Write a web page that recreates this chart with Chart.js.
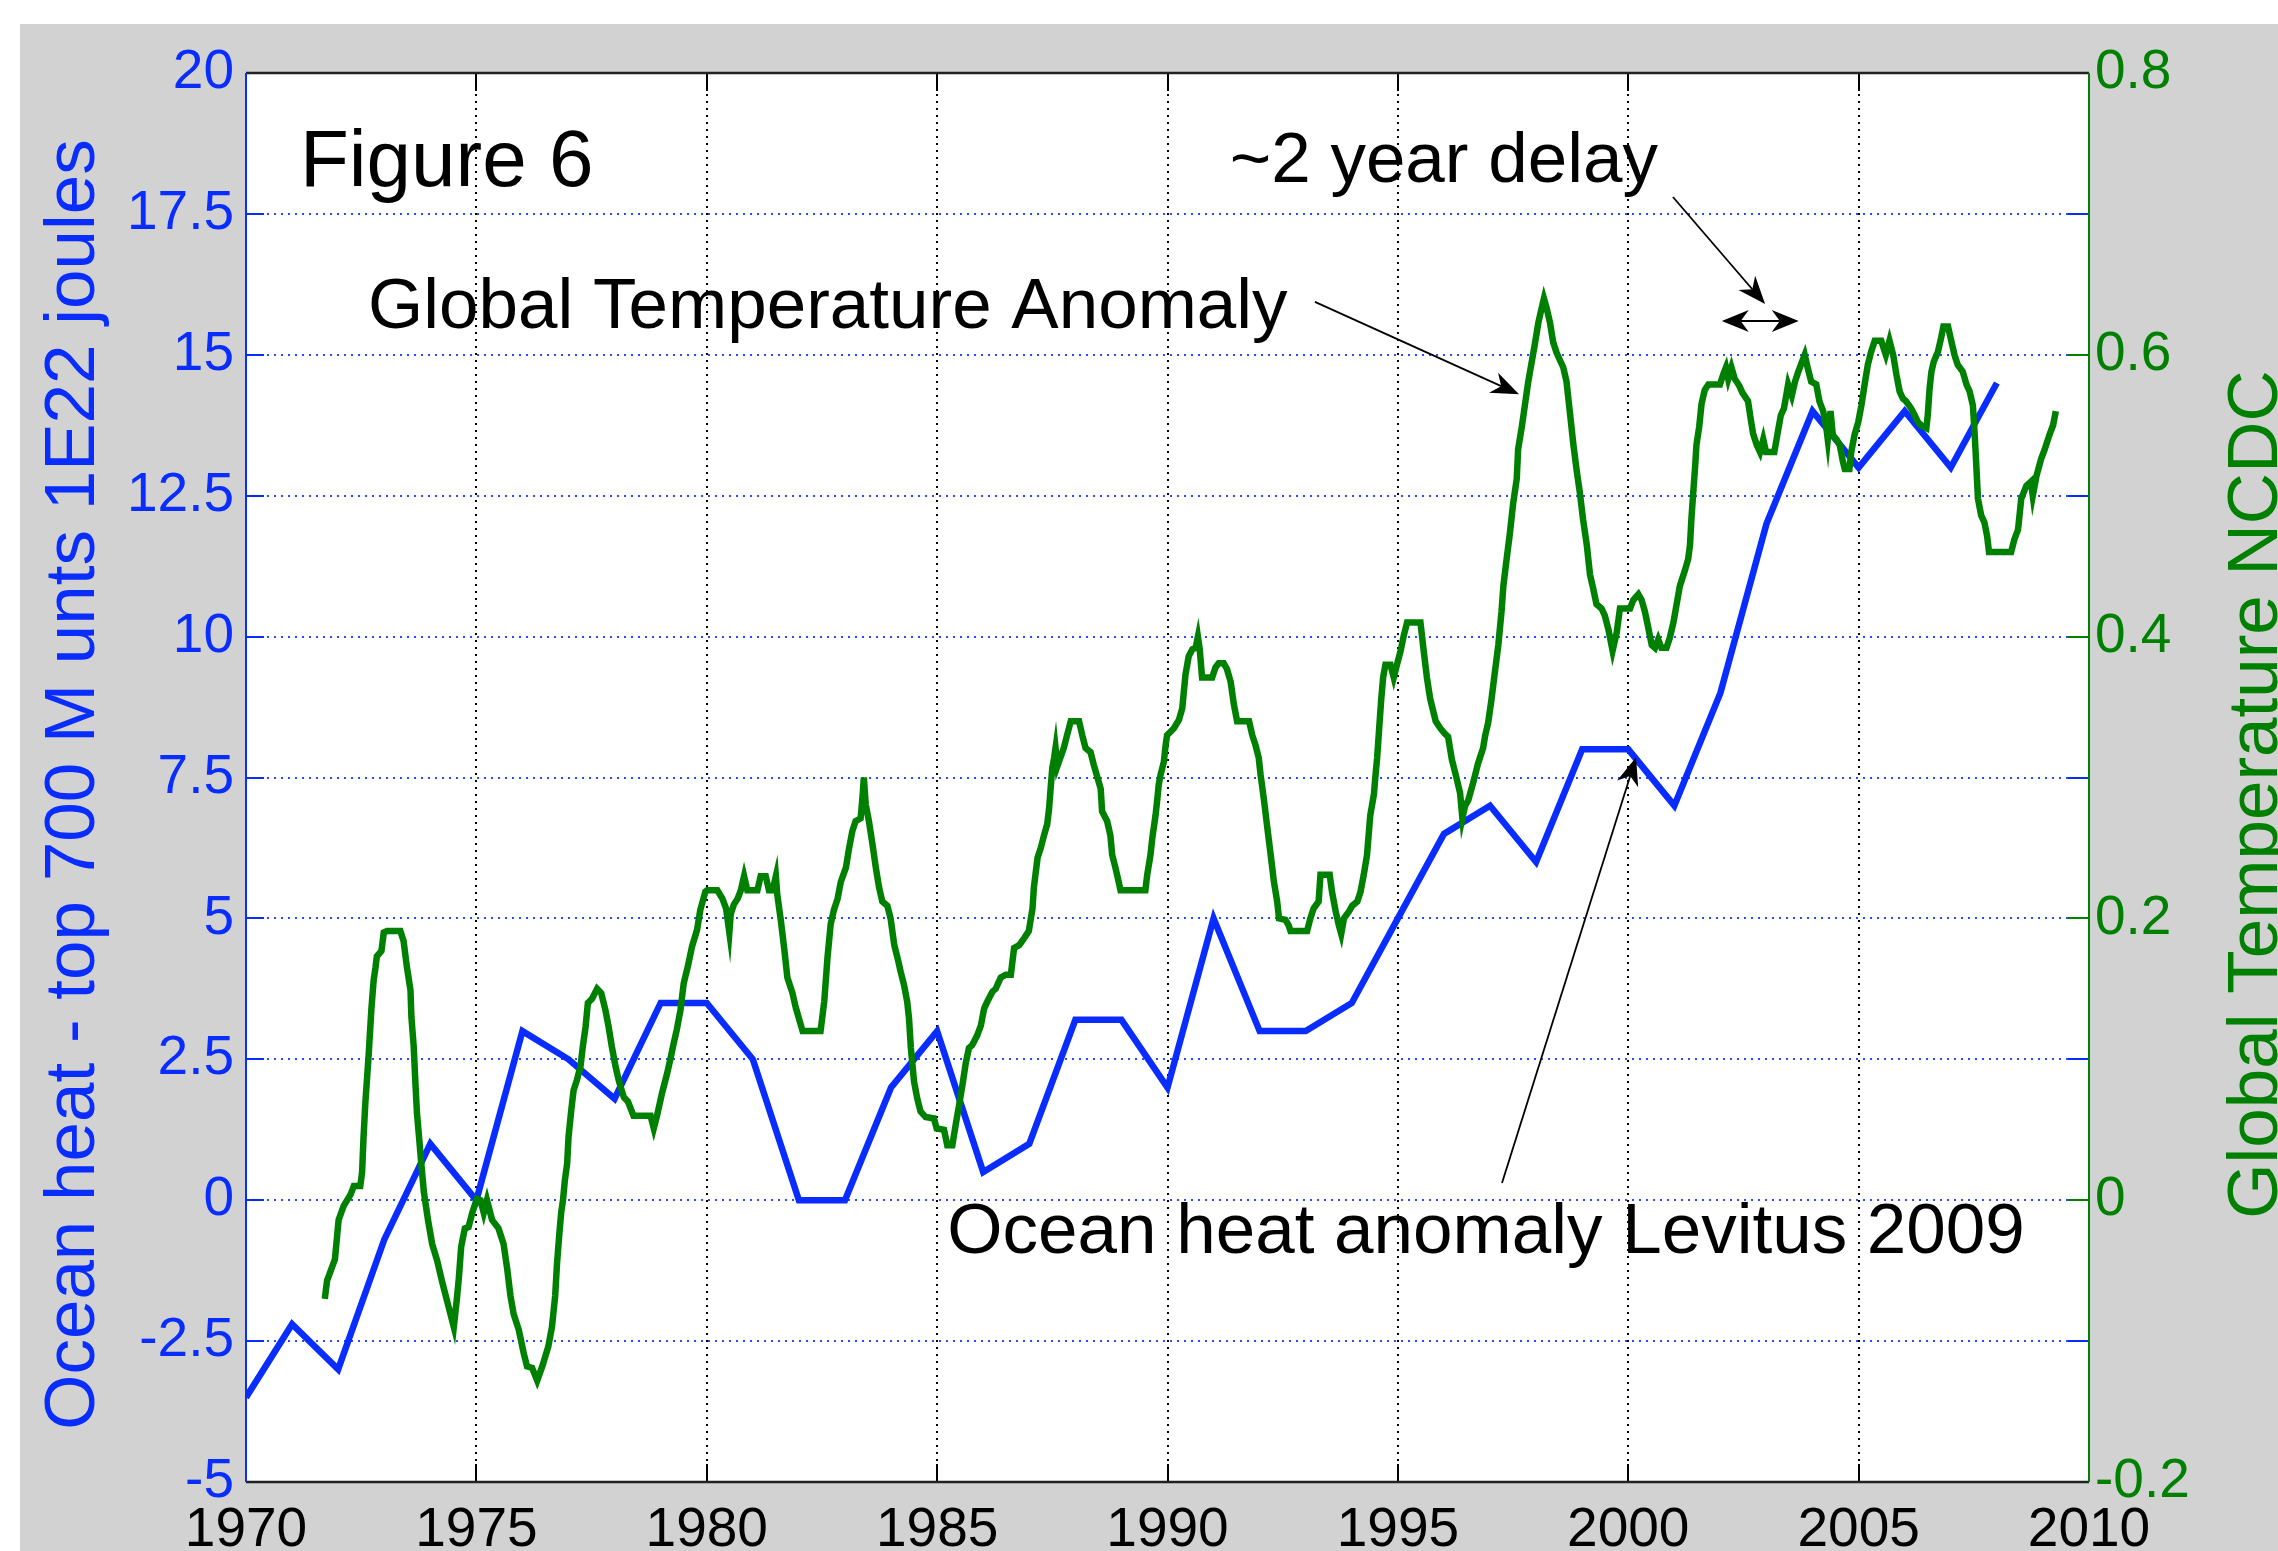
<!DOCTYPE html>
<html>
<head>
<meta charset="utf-8">
<title>Figure 6 – Ocean heat and global temperature</title>
<script src="https://cdn.jsdelivr.net/npm/chart.js@4.4.0/dist/chart.umd.min.js"></script>
<style>
  html, body { margin: 0; padding: 0; background: #ffffff; }
  canvas { display: block; }
</style>
</head>
<body>
<canvas id="chart" width="2278" height="1551"></canvas>
<script>
// Ocean heat content anomaly, top 700 m (Levitus 2009), units of 1E22 joules
const oceanYears = [
  1970, 1971, 1972, 1973, 1974, 1975, 1976, 1977, 1978, 1979,
  1980, 1981, 1982, 1983, 1984, 1985, 1986, 1987, 1988, 1989,
  1990, 1991, 1992, 1993, 1994, 1995, 1996, 1997, 1998, 1999,
  2000, 2001, 2002, 2003, 2004, 2005, 2006, 2007, 2008
];
const oceanHeat = [
  -3.5, -2.2, -3.0, -0.7, 1.0, 0.0, 3.0, 2.5, 1.8, 3.5,
  3.5, 2.5, 0.0, 0.0, 2.0, 3.0, 0.5, 1.0, 3.2, 3.2,
  2.0, 5.0, 3.0, 3.0, 3.5, 5.0, 6.5, 7.0, 6.0, 8.0,
  8.0, 7.0, 9.0, 12.0, 14.0, 13.0, 14.0, 13.0, 14.5
];

// NCDC global temperature anomaly (deg C), running mean
const tempYears = [
  1971.71,1971.76,1971.93,1972.01,1972.12,1972.27,1972.34,1972.48,1972.52,1972.55,
  1972.59,1972.63,1972.66,1972.72,1972.77,1972.81,1972.84,1972.94,1972.99,1973.06,
  1973.35,1973.42,1973.49,1973.57,1973.59,1973.64,1973.68,1973.71,1973.75,1973.81,
  1973.86,1973.95,1974.04,1974.15,1974.25,1974.36,1974.51,1974.58,1974.62,1974.67,
  1974.75,1974.83,1974.91,1975.01,1975.09,1975.16,1975.23,1975.34,1975.48,1975.59,
  1975.67,1975.74,1975.81,1975.92,1976.03,1976.10,1976.21,1976.32,1976.43,1976.56,
  1976.64,1976.71,1976.75,1976.80,1976.84,1976.88,1976.92,1976.97,1977.00,1977.06,
  1977.11,1977.18,1977.26,1977.31,1977.37,1977.42,1977.51,1977.62,1977.71,1977.80,
  1977.87,1977.94,1978.02,1978.09,1978.20,1978.29,1978.41,1978.78,1978.85,1978.92,
  1979.03,1979.14,1979.21,1979.28,1979.35,1979.43,1979.50,1979.59,1979.68,1979.79,
  1979.86,1979.97,
  1980.01,1980.23,1980.34,1980.42,1980.49,1980.52,1980.59,1980.67,1980.74,1980.81,
  1980.88,1981.10,1981.17,1981.28,1981.35,1981.43,1981.50,1981.53,1981.61,1981.68,
  1981.75,1981.86,1981.93,1982.00,1982.08,1982.47,1982.55,1982.62,1982.69,1982.76,
  1982.84,1982.91,1983.02,1983.09,1983.16,1983.23,1983.34,1983.38,1983.41,1983.45,
  1983.52,1983.60,1983.67,1983.74,1983.81,1983.92,1983.99,1984.07,1984.14,1984.21,
  1984.28,1984.35,1984.39,1984.43,1984.50,1984.57,1984.64,1984.75,1984.93,1984.99,
  1985.15,1985.22,1985.33,1985.40,1985.48,1985.55,1985.62,1985.69,1985.76,1985.87,
  1985.95,1986.02,1986.09,1986.20,1986.27,1986.38,1986.49,1986.60,1986.67,1986.78,
  1986.89,1986.99,1987.07,1987.10,1987.18,1987.25,1987.32,1987.39,1987.43,1987.47,
  1987.50,1987.54,1987.57,1987.61,
  1987.75,1987.82,1987.90,1988.08,1988.15,1988.22,1988.33,1988.40,1988.48,1988.55,
  1988.58,1988.69,1988.76,1988.80,1988.87,1988.94,1988.98,1989.52,1989.56,1989.63,
  1989.67,1989.74,1989.78,1989.81,1989.85,1989.92,1989.96,1989.99,1990.14,1990.25,
  1990.32,1990.39,1990.46,1990.54,1990.61,1990.66,1990.70,1990.75,1990.97,1991.04,
  1991.11,1991.22,1991.29,1991.37,1991.44,1991.51,1991.77,1991.84,1991.91,1991.98,
  1992.02,1992.09,1992.16,1992.24,1992.31,1992.38,1992.42,1992.56,1992.63,1992.67,
  1993.03,1993.10,1993.17,1993.28,1993.32,1993.52,1993.57,1993.65,1993.72,1993.77,
  1993.83,1993.94,1994.01,1994.12,1994.19,1994.26,1994.33,1994.40,1994.48,1994.51,
  1994.55,1994.59,1994.64,1994.68,1994.73,1994.84,1994.91,1994.98,1995.06,1995.13,
  1995.20,1995.49,1995.56,1995.63,1995.70,1995.82,1995.92,
  1996.02,1996.09,1996.17,1996.27,1996.35,1996.40,1996.46,1996.53,1996.64,1996.74,
  1996.85,1996.89,1996.96,1997.03,1997.11,1997.18,1997.25,1997.29,1997.36,1997.43,
  1997.50,1997.58,1997.61,1997.69,1997.76,1997.83,1997.90,1997.97,1998.05,1998.12,
  1998.17,1998.23,1998.30,1998.37,1998.44,1998.52,1998.59,1998.66,1998.73,1998.81,
  1998.88,1998.95,1999.02,1999.10,1999.17,1999.24,1999.31,1999.42,1999.49,1999.57,
  1999.66,1999.75,1999.82,2000.04,2000.11,2000.22,2000.29,2000.36,2000.43,2000.51,
  2000.58,2000.65,2000.72,2000.83,2000.90,2000.98,2001.05,2001.12,2001.23,2001.30,
  2001.34,2001.37,2001.41,2001.45,2001.48,2001.54,2001.59,2001.66,2001.74,2001.99,
  2002.06,2002.12,2002.17,2002.24,2002.31,2002.41,2002.48,2002.60,2002.66,2002.71,
  2002.79,2002.86,2002.93,2002.99,2003.17,2003.24,2003.31,2003.38,
  2003.47,2003.55,2003.62,2003.68,2003.76,2003.83,2003.90,2003.97,2004.08,2004.15,
  2004.23,2004.30,2004.33,2004.39,2004.44,2004.52,2004.59,2004.66,2004.70,2004.80,
  2004.84,2004.91,2004.99,2005.06,2005.13,2005.20,2005.27,2005.35,2005.49,2005.59,
  2005.67,2005.75,2005.82,2005.89,2005.96,2006.03,2006.14,2006.22,2006.29,2006.36,
  2006.47,2006.50,2006.54,2006.58,2006.63,2006.72,2006.79,2006.84,2006.94,2007.01,
  2007.08,2007.15,2007.26,2007.34,2007.41,2007.48,2007.52,2007.55,2007.59,2007.66,
  2007.73,2007.79,2007.83,2008.31,2008.38,2008.46,2008.53,2008.64,2008.74,2008.78,
  2008.86,2008.96,2009.04,2009.14,2009.22,2009.28
];
const tempAnomaly = [
  -0.070,-0.057,-0.042,-0.014,-0.004,0.004,0.010,0.010,0.020,0.044,
  0.069,0.088,0.102,0.135,0.156,0.165,0.173,0.177,0.190,0.191,
  0.191,0.184,0.166,0.149,0.130,0.109,0.081,0.062,0.047,0.024,
  0.006,-0.014,-0.031,-0.043,-0.057,-0.071,-0.090,-0.069,-0.055,-0.033,
  -0.020,-0.019,-0.009,0.001,0.000,-0.009,0.000,-0.014,-0.020,-0.031,
  -0.049,-0.068,-0.081,-0.092,-0.109,-0.118,-0.119,-0.128,-0.118,-0.104,
  -0.090,-0.068,-0.045,-0.024,-0.009,0.000,0.014,0.026,0.045,0.064,
  0.078,0.085,0.095,0.109,0.123,0.140,0.143,0.150,0.147,0.135,
  0.123,0.109,0.095,0.085,0.073,0.070,0.060,0.060,0.051,0.060,
  0.076,0.090,0.100,0.111,0.121,0.135,0.154,0.166,0.180,0.192,
  0.206,0.219,
  0.220,0.220,0.214,0.207,0.190,0.203,0.210,0.214,0.220,0.230,
  0.220,0.220,0.230,0.230,0.220,0.220,0.230,0.217,0.198,0.179,
  0.158,0.147,0.137,0.129,0.120,0.120,0.141,0.172,0.196,0.206,
  0.214,0.226,0.236,0.250,0.262,0.269,0.271,0.286,0.300,0.281,
  0.269,0.252,0.236,0.222,0.212,0.209,0.200,0.181,0.172,0.162,
  0.153,0.141,0.129,0.108,0.084,0.072,0.063,0.059,0.058,0.051,
  0.050,0.039,0.039,0.053,0.068,0.082,0.097,0.108,0.110,0.117,
  0.124,0.136,0.141,0.148,0.150,0.158,0.160,0.160,0.179,0.181,
  0.186,0.191,0.207,0.222,0.243,0.250,0.259,0.267,0.278,0.295,
  0.307,0.314,0.321,0.308,
  0.321,0.330,0.340,0.340,0.330,0.321,0.318,0.309,0.300,0.292,
  0.276,0.269,0.259,0.245,0.236,0.226,0.220,0.220,0.231,0.245,
  0.257,0.273,0.285,0.295,0.302,0.311,0.323,0.330,0.335,0.341,
  0.349,0.373,0.386,0.391,0.392,0.400,0.391,0.371,0.371,0.378,
  0.381,0.381,0.377,0.368,0.352,0.340,0.340,0.330,0.323,0.314,
  0.302,0.285,0.266,0.245,0.226,0.212,0.200,0.199,0.195,0.191,
  0.191,0.200,0.207,0.212,0.231,0.231,0.219,0.205,0.195,0.189,
  0.200,0.205,0.209,0.212,0.219,0.231,0.245,0.273,0.288,0.300,
  0.314,0.333,0.356,0.371,0.380,0.380,0.371,0.380,0.390,0.401,
  0.410,0.410,0.390,0.371,0.356,0.340,0.335,
  0.331,0.329,0.313,0.300,0.289,0.271,0.280,0.284,0.297,0.310,
  0.321,0.329,0.339,0.355,0.376,0.394,0.418,0.436,0.455,0.473,
  0.494,0.512,0.533,0.549,0.565,0.581,0.594,0.607,0.623,0.633,
  0.640,0.633,0.623,0.609,0.602,0.596,0.591,0.581,0.560,0.536,
  0.518,0.502,0.483,0.465,0.444,0.434,0.423,0.420,0.415,0.405,
  0.390,0.403,0.420,0.420,0.426,0.430,0.426,0.418,0.407,0.394,
  0.392,0.398,0.392,0.392,0.399,0.410,0.423,0.436,0.447,0.455,
  0.465,0.483,0.502,0.520,0.536,0.549,0.565,0.575,0.579,0.579,
  0.586,0.591,0.583,0.591,0.583,0.578,0.573,0.567,0.554,0.544,
  0.536,0.531,0.540,0.531,0.531,0.544,0.557,0.562,
  0.579,0.571,0.581,0.587,0.594,0.600,0.590,0.581,0.579,0.567,
  0.560,0.548,0.540,0.560,0.543,0.540,0.536,0.524,0.519,0.519,
  0.531,0.543,0.552,0.564,0.579,0.593,0.602,0.610,0.610,0.600,
  0.610,0.600,0.586,0.574,0.569,0.567,0.562,0.557,0.552,0.550,
  0.548,0.557,0.576,0.588,0.595,0.602,0.612,0.620,0.620,0.610,
  0.600,0.593,0.588,0.579,0.574,0.564,0.543,0.524,0.498,0.486,
  0.481,0.471,0.460,0.460,0.469,0.476,0.498,0.507,0.510,0.500,
  0.514,0.526,0.533,0.543,0.550,0.560
];

// Axis ticks
const yearTicks = [1970, 1975, 1980, 1985, 1990, 1995, 2000, 2005, 2010];
const heatTicks = [-5, -2.5, 0, 2.5, 5, 7.5, 10, 12.5, 15, 17.5, 20];
const tempTicks = [-0.2, 0, 0.2, 0.4, 0.6, 0.8];

// Text labels, anchored in (year, ocean heat) units
const noteTexts = ['Figure 6', 'Global Temperature Anomaly', '~2 year delay', 'Ocean heat anomaly Levitus 2009'];
const noteYears = [1971.17, 1972.65, 1991.35, 1985.22];
const noteHeats = [18.0, 15.48, 18.07, -0.94];
const noteSizes = [80, 71, 71, 71];

// Pointer arrows: [startYear, startHeat, tipYear, tipHeat]
const pointerArrows = [
  [1993.2, 15.94, 1997.63, 14.30],
  [2000.97, 17.80, 2002.97, 15.90],
  [1997.26, 0.305, 2000.17, 7.86]
];
// Double-headed span arrow: [fromYear, toYear, heat]
const delaySpan = [2002.03, 2003.70, 15.60];

const FONT = '"Liberation Sans", Arial, Helvetica, sans-serif';
const BLUE = '#0a2dff';
const GRID_BLUE = '#2a4bff';
const GREEN = '#008000';
const FIG_GRAY = '#d2d2d2';
const TICK_LEN = 18;

const figureFrame = {
  id: 'figureFrame',
  beforeDraw(chart) {
    const { ctx, width, height, chartArea: a } = chart;
    ctx.save();
    ctx.fillStyle = '#ffffff';
    ctx.fillRect(0, 0, width, height);
    ctx.fillStyle = FIG_GRAY;
    ctx.fillRect(20, 24, width - 20, height - 24);
    ctx.fillStyle = '#ffffff';
    ctx.fillRect(a.left, a.top, a.right - a.left, a.bottom - a.top);
    ctx.restore();
  }
};

// Dotted grid under the data
const dottedGrid = {
  id: 'dottedGrid',
  beforeDatasetsDraw(chart) {
    const { ctx, chartArea: a, scales } = chart;
    ctx.save();
    ctx.lineWidth = 2;
    ctx.setLineDash([2, 5]);
    ctx.strokeStyle = '#000000';
    yearTicks.slice(1, -1).forEach(yr => {
      const px = Math.round(scales.x.getPixelForValue(yr));
      ctx.beginPath();
      ctx.moveTo(px, a.top);
      ctx.lineTo(px, a.bottom);
      ctx.stroke();
    });
    ctx.strokeStyle = GRID_BLUE;
    heatTicks.slice(1, -1).forEach(v => {
      const py = Math.round(scales.y.getPixelForValue(v));
      ctx.beginPath();
      ctx.moveTo(a.left, py);
      ctx.lineTo(a.right, py);
      ctx.stroke();
    });
    ctx.restore();
  }
};

function arrowHead(ctx, fx, fy, tx, ty, len, half) {
  const d = Math.hypot(tx - fx, ty - fy);
  const ux = (tx - fx) / d, uy = (ty - fy) / d;
  const nx = -uy, ny = ux;
  const bx = tx - ux * len, by = ty - uy * len;
  const kx = tx - ux * len * 0.7, ky = ty - uy * len * 0.7;
  ctx.beginPath();
  ctx.moveTo(tx, ty);
  ctx.lineTo(bx + nx * half, by + ny * half);
  ctx.lineTo(kx, ky);
  ctx.lineTo(bx - nx * half, by - ny * half);
  ctx.closePath();
  ctx.fill();
  return [kx, ky];
}

// Axes box, inward ticks, axis titles and annotations on top
const axesAndNotes = {
  id: 'axesAndNotes',
  afterDatasetsDraw(chart) {
    const { ctx, chartArea: a, scales } = chart;
    const sx = scales.x, sy = scales.y, sy1 = scales.y1;
    ctx.save();
    ctx.setLineDash([]);
    ctx.lineWidth = 2;

    // year ticks top and bottom
    ctx.strokeStyle = '#000000';
    yearTicks.forEach(yr => {
      const px = Math.round(sx.getPixelForValue(yr));
      ctx.beginPath();
      ctx.moveTo(px, a.bottom); ctx.lineTo(px, a.bottom - TICK_LEN);
      ctx.moveTo(px, a.top); ctx.lineTo(px, a.top + TICK_LEN);
      ctx.stroke();
    });
    // heat ticks, both sides
    ctx.strokeStyle = BLUE;
    heatTicks.forEach(v => {
      const py = Math.round(sy.getPixelForValue(v));
      ctx.beginPath();
      ctx.moveTo(a.left, py); ctx.lineTo(a.left + TICK_LEN, py);
      ctx.moveTo(a.right, py); ctx.lineTo(a.right - TICK_LEN - 3, py);
      ctx.stroke();
    });
    // temperature ticks on the right
    ctx.strokeStyle = GREEN;
    tempTicks.forEach(v => {
      const py = Math.round(sy1.getPixelForValue(v));
      ctx.beginPath();
      ctx.moveTo(a.right, py); ctx.lineTo(a.right - TICK_LEN - 3, py);
      ctx.stroke();
    });

    // box
    ctx.lineWidth = 2.5;
    ctx.strokeStyle = '#222222';
    ctx.beginPath();
    ctx.moveTo(a.left, a.top); ctx.lineTo(a.right, a.top);
    ctx.moveTo(a.left, a.bottom); ctx.lineTo(a.right, a.bottom);
    ctx.stroke();
    ctx.lineWidth = 2;
    ctx.strokeStyle = BLUE;
    ctx.beginPath(); ctx.moveTo(a.left, a.top); ctx.lineTo(a.left, a.bottom); ctx.stroke();
    ctx.strokeStyle = GREEN;
    ctx.beginPath(); ctx.moveTo(a.right, a.top); ctx.lineTo(a.right, a.bottom); ctx.stroke();

    // axis titles (both read bottom to top)
    const midY = (a.top + a.bottom) / 2;
    ctx.textAlign = 'center';
    ctx.textBaseline = 'alphabetic';
    ctx.font = '71px ' + FONT;
    ctx.fillStyle = BLUE;
    ctx.save();
    ctx.translate(94, midY + 7);
    ctx.rotate(-Math.PI / 2);
    ctx.fillText('Ocean heat - top 700 M unts 1E22 joules', 0, 0);
    ctx.restore();
    ctx.fillStyle = GREEN;
    ctx.save();
    ctx.translate(2277, midY + 17);
    ctx.rotate(-Math.PI / 2);
    ctx.fillText('Global Temperature NCDC', 0, 0);
    ctx.restore();

    // annotation texts
    ctx.fillStyle = '#000000';
    ctx.textAlign = 'left';
    noteTexts.forEach((t, i) => {
      ctx.font = noteSizes[i] + 'px ' + FONT;
      ctx.fillText(t, sx.getPixelForValue(noteYears[i]), sy.getPixelForValue(noteHeats[i]));
    });

    // pointer arrows
    ctx.strokeStyle = '#000000';
    ctx.lineWidth = 1.8;
    pointerArrows.forEach(([y0, h0, y1, h1]) => {
      const fx = sx.getPixelForValue(y0), fy = sy.getPixelForValue(h0);
      const tx = sx.getPixelForValue(y1), ty = sy.getPixelForValue(h1);
      const [kx, ky] = arrowHead(ctx, fx, fy, tx, ty, 28, 11);
      ctx.beginPath(); ctx.moveTo(fx, fy); ctx.lineTo(kx, ky); ctx.stroke();
    });
    // double-headed span
    {
      const lx = sx.getPixelForValue(delaySpan[0]);
      const rx = sx.getPixelForValue(delaySpan[1]);
      const py = sy.getPixelForValue(delaySpan[2]);
      const [k1x] = arrowHead(ctx, rx, py, lx, py, 27, 11);
      const [k2x] = arrowHead(ctx, lx, py, rx, py, 27, 11);
      ctx.beginPath(); ctx.moveTo(k1x, py); ctx.lineTo(k2x, py); ctx.stroke();
    }
    ctx.restore();
  }
};

const tickFont = { family: FONT, size: 55 };

new Chart(document.getElementById('chart'), {
  type: 'line',
  data: {
    datasets: [
      {
        label: 'Global Temperature Anomaly',
        data: tempYears.map((yr, i) => ({ x: yr, y: tempAnomaly[i] })),
        yAxisID: 'y1',
        borderColor: GREEN,
        borderWidth: 6.5,
        pointRadius: 0,
        tension: 0,
        borderJoinStyle: 'miter',
        fill: false,
        order: 0
      },
      {
        label: 'Ocean heat anomaly Levitus 2009',
        data: oceanYears.map((yr, i) => ({ x: yr, y: oceanHeat[i] })),
        yAxisID: 'y',
        borderColor: BLUE,
        borderWidth: 6.5,
        pointRadius: 0,
        tension: 0,
        borderJoinStyle: 'miter',
        fill: false,
        order: 1
      }
    ]
  },
  options: {
    responsive: false,
    animation: false,
    devicePixelRatio: 1,
    events: [],
    layout: { padding: { top: 73, left: 0, right: 0, bottom: 0 } },
    plugins: { legend: { display: false }, tooltip: { enabled: false } },
    scales: {
      x: {
        type: 'linear',
        position: 'bottom',
        min: 1970,
        max: 2010,
        afterBuildTicks: s => { s.ticks = yearTicks.map(v => ({ value: v })); },
        afterFit: s => { s.height = 69; },
        grid: { display: false },
        border: { display: false },
        ticks: { color: '#000000', font: tickFont, padding: 8, maxRotation: 0, autoSkip: false, callback: v => String(v) }
      },
      y: {
        position: 'left',
        min: -5,
        max: 20,
        afterBuildTicks: s => { s.ticks = heatTicks.map(v => ({ value: v })); },
        afterFit: s => { s.width = 246; },
        grid: { display: false },
        border: { display: false },
        ticks: { color: BLUE, font: tickFont, padding: 4, autoSkip: false, callback: v => String(v) }
      },
      y1: {
        position: 'right',
        min: -0.2,
        max: 0.8,
        afterBuildTicks: s => { s.ticks = tempTicks.map(v => ({ value: v })); },
        afterFit: s => { s.width = 189; },
        grid: { display: false },
        border: { display: false },
        ticks: { color: GREEN, font: tickFont, padding: -2, autoSkip: false, callback: v => String(Math.round(v * 10) / 10) }
      }
    }
  },
  plugins: [figureFrame, dottedGrid, axesAndNotes]
});
</script>
</body>
</html>
